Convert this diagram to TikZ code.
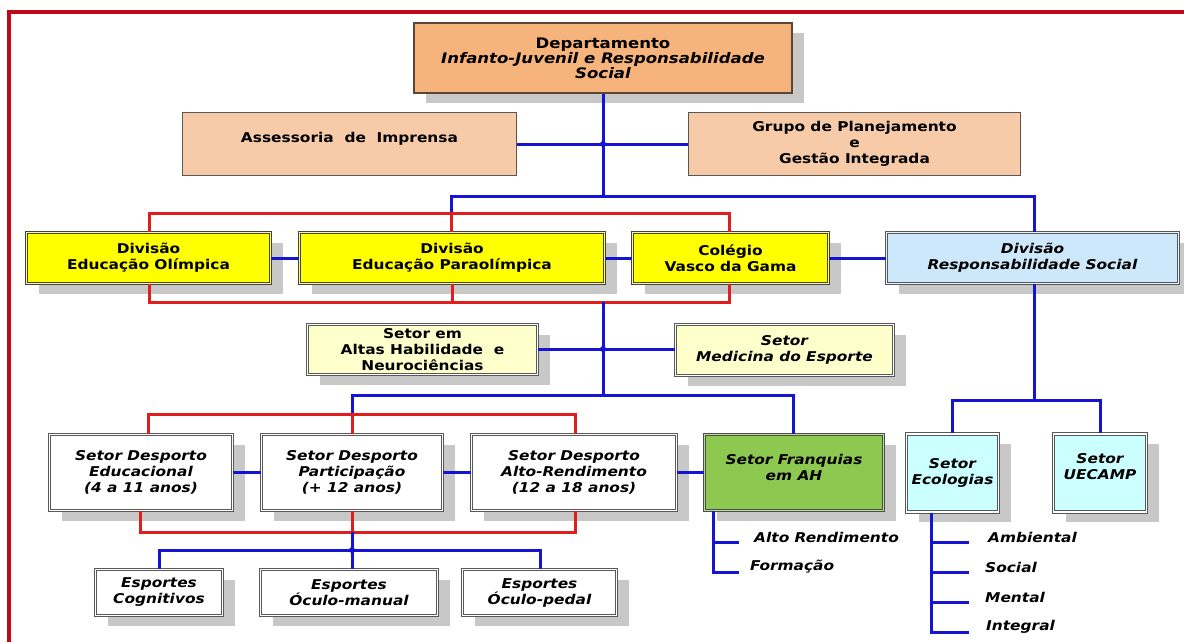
\documentclass[tikz,border=0pt]{standalone}
\usepackage{fontspec}
\setmainfont{DejaVu Sans}[FakeStretch=1.14]
\usetikzlibrary{shadows}
\definecolor{deptfill}{HTML}{F6B47C}
\definecolor{peach}{HTML}{F8CBA8}
\definecolor{yel}{HTML}{FFFF00}
\definecolor{ltblue}{HTML}{CCE8FA}
\definecolor{cream}{HTML}{FFFFCC}
\definecolor{green}{HTML}{8DC850}
\definecolor{cyanl}{HTML}{CCFFFF}
\definecolor{shadowgray}{HTML}{C8C8C8}
\definecolor{lineblue}{HTML}{1414D2}
\definecolor{linered}{HTML}{E01E1E}
\definecolor{framered}{HTML}{C00818}
\definecolor{boxborder}{HTML}{585858}
\definecolor{deptborder}{HTML}{5B4636}
\begin{document}
\begin{tikzpicture}[x=1pt,y=-1pt,
  fnt/.style={font=\fontsize{13.5}{16}\selectfont\bfseries},
  fti/.style={font=\fontsize{13.5}{16}\selectfont\bfseries\itshape},
  box/.style={draw=boxborder, line width=1.1pt, double=white, double distance=1.1pt, align=center, inner sep=2pt},
  shad/.style={drop shadow={shadow xshift=12pt, shadow yshift=-10pt, fill=shadowgray, opacity=1}},
  bl/.style={draw=lineblue, line width=3pt},
  rd/.style={draw=linered, line width=3pt},
  lbl/.style={fti, anchor=west, inner sep=0pt}
]
\useasboundingbox (0,0) rectangle (1184,641);
\clip (0,0) rectangle (1184,641);
\fill[white] (0,0) rectangle (1184,641);
% frame
\draw[draw=framered, line width=4pt] (9,700) -- (9,12) -- (1250,12);

% nodes
\node[shad, draw=deptborder, line width=1.6pt, fill=deptfill, align=center,
  minimum width=378pt, minimum height=70pt, font=\fontsize{14.5}{15}\selectfont\bfseries] (dept) at (603,58)
  {Departamento\\\itshape Infanto-Juvenil e Responsabilidade\\\itshape Social};
\node[draw=boxborder, line width=1.2pt, fill=peach, fnt, align=center, minimum width=334pt, minimum height=63pt] (ass) at (349.5,144)
  {Assessoria\ \ de\ \ Imprensa\\[-2pt]\mbox{}};
\node[draw=boxborder, line width=1.2pt, fill=peach, fnt, align=center, minimum width=332pt, minimum height=63pt] (grupo) at (854.5,144)
  {Grupo de Planejamento\\e\\Gestão Integrada};

\node[box, shad, fill=yel, double=yel!55!white, draw=black!75, fnt, minimum width=244pt, minimum height=51pt] (olim) at (148.5,258) {Divisão\\Educação Olímpica};
\node[box, shad, fill=yel, double=yel!55!white, draw=black!75, fnt, minimum width=305pt, minimum height=51pt] (para) at (452,258) {Divisão\\Educação Paraolímpica};
\node[box, shad, fill=yel, double=yel!55!white, draw=black!75, fnt, minimum width=196pt, minimum height=51pt] (coleg) at (730.5,258) {Colégio\\Vasco da Gama};
\node[box, shad, fill=ltblue, double=ltblue!50!white, fti, minimum width=292pt, minimum height=51pt] (resp) at (1032.5,258) {Divisão\\Responsabilidade Social};

\node[box, shad, fill=cream, fnt, minimum width=230pt, minimum height=50pt] (altas) at (422.5,349.5) {Setor em\\Altas Habilidade\ \ e\\Neurociências};
\node[box, shad, fill=cream, fti, minimum width=218pt, minimum height=51pt] (medic) at (784.5,350) {Setor\\Medicina do Esporte};

\node[box, shad, fill=white, fti, minimum width=183pt, minimum height=76pt] (desp1) at (141,472.5) {Setor Desporto\\Educacional\\(4 a 11 anos)};
\node[box, shad, fill=white, fti, minimum width=181pt, minimum height=76pt] (desp2) at (352,472.5) {Setor Desporto\\Participação\\(+ 12 anos)};
\node[box, shad, fill=white, fti, minimum width=205pt, minimum height=76pt] (desp3) at (574,472.5) {Setor Desporto\\Alto-Rendimento\\(12 a 18 anos)};
\node[box, shad, fill=green, double=green!60!white, draw=black!70, fti, minimum width=179pt, minimum height=76pt] (franq) at (794,472.5) {Setor Franquias\\em AH\\[-5pt]\mbox{}};
\node[box, shad, fill=cyanl, fti, minimum width=92pt, minimum height=78pt] (ecol) at (952.5,473) {Setor\\Ecologias};
\node[box, shad, fill=cyanl, fti, minimum width=93pt, minimum height=78pt] (uecamp) at (1100,473) {Setor\\UECAMP\\[-2pt]\mbox{}};

\node[box, shad, fill=white, fti, minimum width=127pt, minimum height=46pt] (esp1) at (159,592.5) {Esportes\\Cognitivos};
\node[box, shad, fill=white, fti, minimum width=177pt, minimum height=46pt] (esp2) at (349,592.5) {Esportes\\Óculo-manual};
\node[box, shad, fill=white, fti, minimum width=154pt, minimum height=46pt] (esp3) at (539.5,592.5) {Esportes\\Óculo-pedal};

% labels
\node[lbl] (lAlto) at (754,537) {Alto Rendimento};
\node[lbl] (lForm) at (750,567) {Formação};
\node[lbl] (lAmb) at (988,537) {Ambiental};
\node[lbl] (lSoc) at (985,567) {Social};
\node[lbl] (lMen) at (985,597) {Mental};
\node[lbl] (lInt) at (986,627) {Integral};

% coordinates
\coordinate (jA) at (603,144);
\coordinate (jB) at (603,196);
\coordinate (jBl) at (451,196);
\coordinate (jBr) at (1034,196);
\coordinate (rT1) at (149,213);
\coordinate (rT2) at (451,213);
\coordinate (rT3) at (729,213);
\coordinate (rB1) at (149,302);
\coordinate (rB2) at (452,302);
\coordinate (rB3) at (729,302);
\coordinate (jC) at (603,302);
\coordinate (jD) at (603,349);
\coordinate (jE) at (603,395);
\coordinate (jEl) at (352,395);
\coordinate (jEr) at (793,395);
\coordinate (rT4) at (148,414);
\coordinate (rT5) at (352,414);
\coordinate (rT6) at (575,414);
\coordinate (rB4) at (140,532);
\coordinate (rB5) at (352,532);
\coordinate (rB6) at (575,532);
\coordinate (jF) at (352,550);
\coordinate (jFl) at (159,550);
\coordinate (jFr) at (540,550);
\coordinate (jG) at (1034,400);
\coordinate (jGl) at (952,400);
\coordinate (jGr) at (1100,400);
\coordinate (f1) at (713,542);
\coordinate (f1e) at (739,542);
\coordinate (f2) at (713,572);
\coordinate (f2e) at (739,572);
\coordinate (e1) at (931,542);
\coordinate (e1e) at (969,542);
\coordinate (e2) at (931,572);
\coordinate (e2e) at (969,572);
\coordinate (e3) at (931,602);
\coordinate (e3e) at (969,602);
\coordinate (e4) at (931,632);
\coordinate (e4e) at (969,632);

% top connectors
\draw[bl] (dept) -- (jB);
\draw[bl] (ass) -- (grupo);
\draw[bl] (rT2) -- (jBl) -- (jBr) -- (jBr |- resp.north);
\draw[rd] (rT1 |- olim.north) -- (rT1) -- (rT3) -- (rT3 |- coleg.north);
\draw[rd] (rT2) -- (rT2 |- para.north);
\draw[rd] (rB1 |- olim.south) -- (rB1) -- (rB3) -- (rB3 |- coleg.south);
\draw[rd] (rB2 |- para.south) -- (rB2);
\draw[bl] (olim) -- (para);
\draw[bl] (para) -- (coleg);
\draw[bl] (coleg) -- (resp);
% middle
\draw[bl] (jC) -- (jE);
\draw[bl] (altas.east |- jD) -- (medic.west |- jD);
\draw[bl] (rT5) -- (jEl) -- (jEr) -- (jEr |- franq.north);
\draw[rd] (rT4 |- desp1.north) -- (rT4) -- (rT6) -- (rT6 |- desp3.north);
\draw[rd] (rT5) -- (rT5 |- desp2.north);
\draw[rd] (rB4 |- desp1.south) -- (rB4) -- (rB6) -- (rB6 |- desp3.south);
\draw[rd] (rB5 |- desp2.south) -- (rB5);
\draw[bl] (desp1) -- (desp2);
\draw[bl] (desp2) -- (desp3);
\draw[bl] (desp3) -- (franq);
% bottom
\draw[bl] (rB5) -- (jF);
\draw[bl] (jFl |- esp1.north) -- (jFl) -- (jFr) -- (jFr |- esp3.north);
\draw[bl] (jF) -- (jF |- esp2.north);
% right branch
\draw[bl] (jG |- resp.south) -- (jG);
\draw[bl] (jGl |- ecol.north) -- (jGl) -- (jGr) -- (jGr |- uecamp.north);
% subtrees
\draw[bl] (f1 |- franq.south) -- (f2) -- (f2e);
\draw[bl] (f1) -- (f1e);
\draw[bl] (e1 |- ecol.south) -- (e4) -- (e4e);
\draw[bl] (e1) -- (e1e);
\draw[bl] (e2) -- (e2e);
\draw[bl] (e3) -- (e3e);
% dots
\fill[lineblue] (jA) circle (3pt);
\fill[lineblue] (jD) circle (3pt);
\fill[lineblue] (jF) circle (3pt);
\end{tikzpicture}
\end{document}
